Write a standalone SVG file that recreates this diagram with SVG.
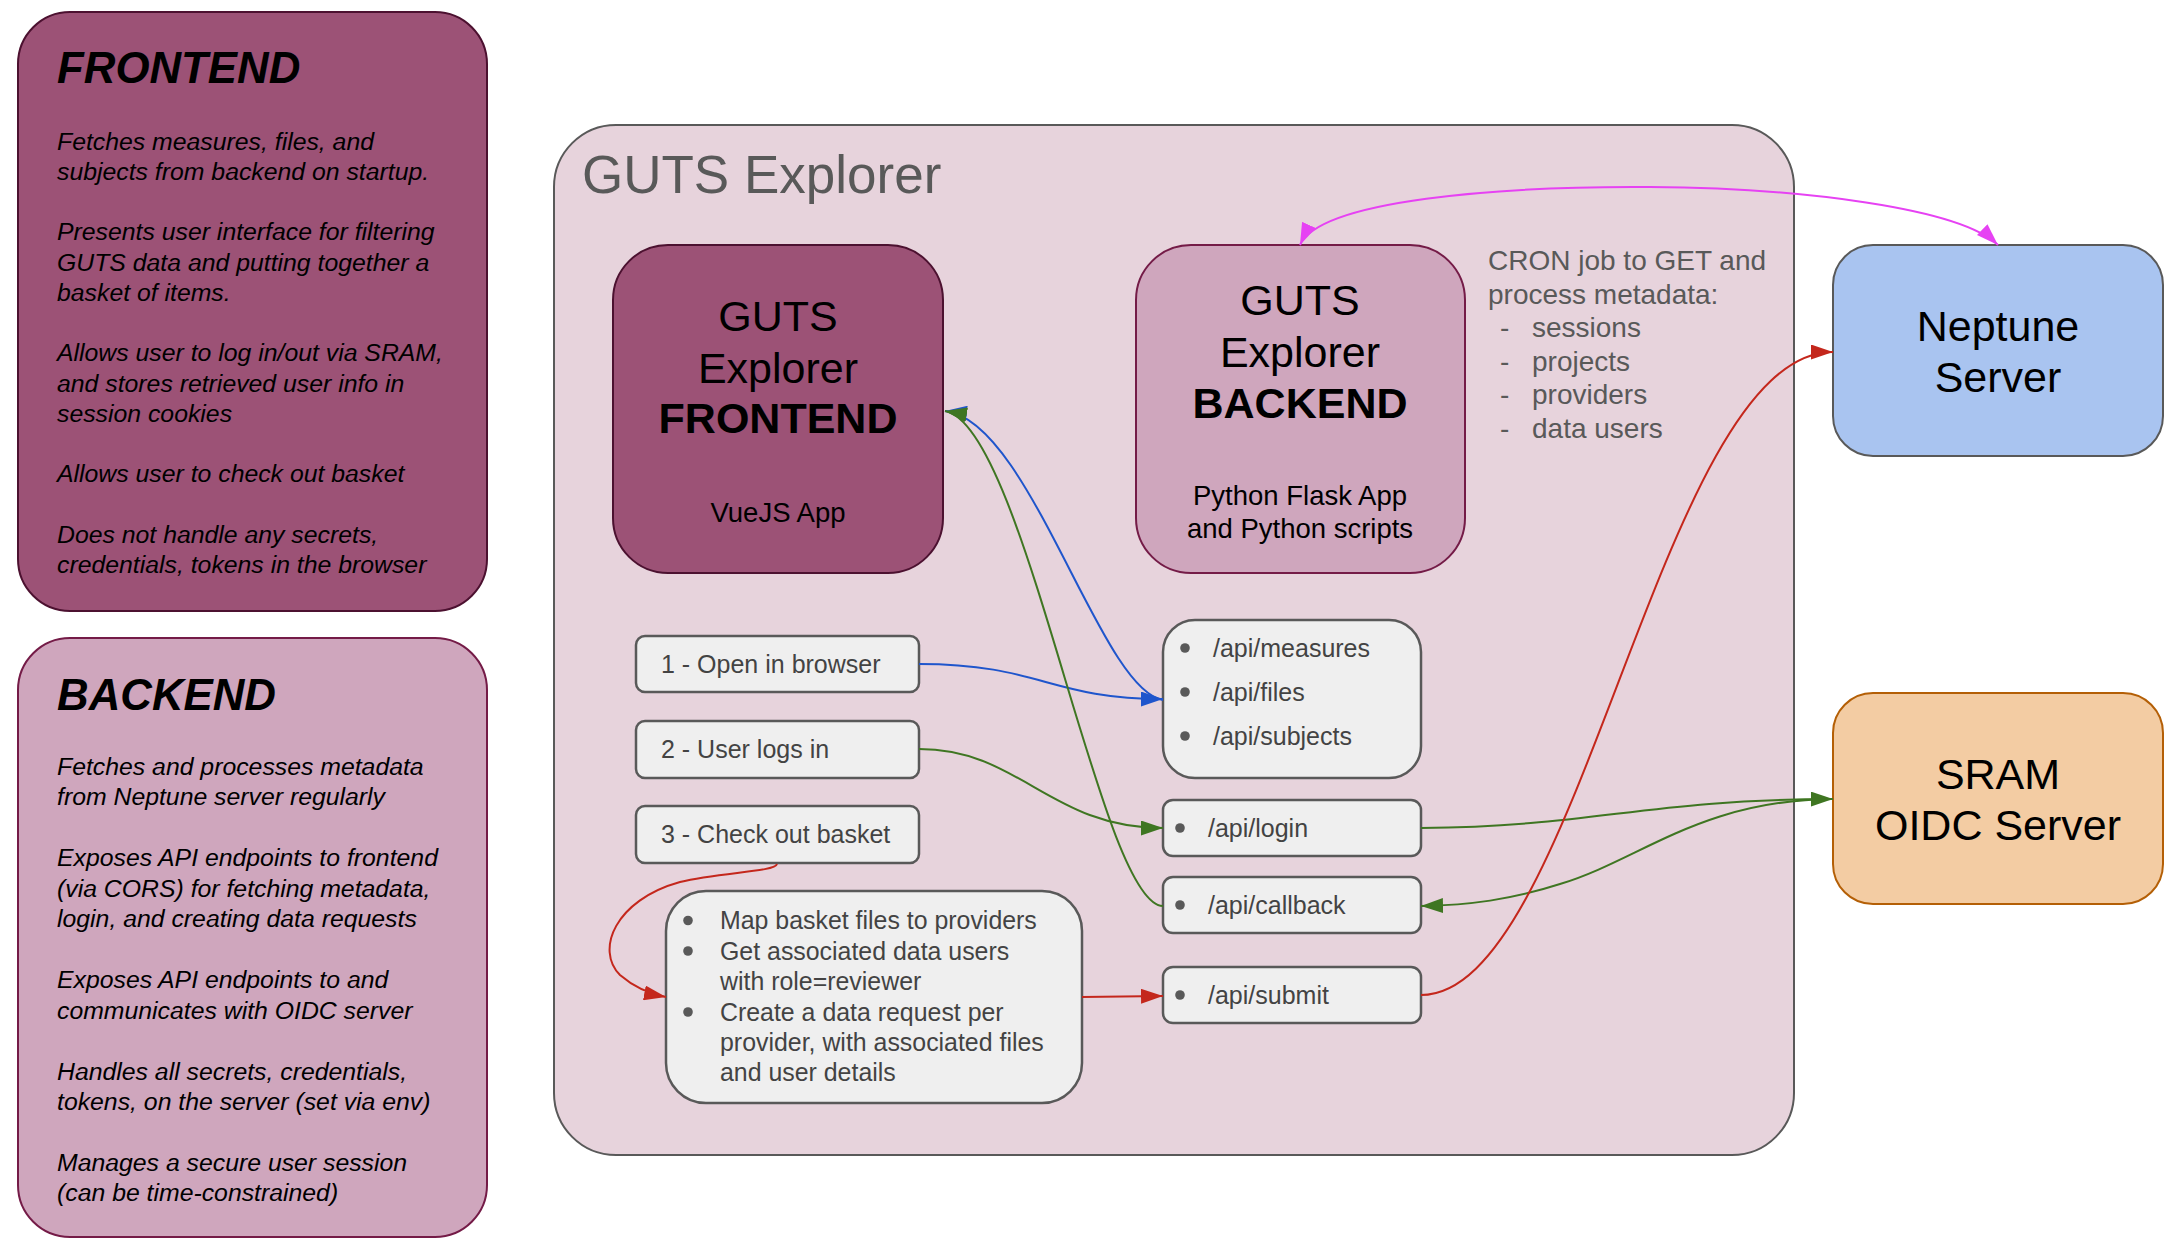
<svg xmlns="http://www.w3.org/2000/svg" width="2182" height="1254" viewBox="0 0 2182 1254">
<defs>
<style>
text{font-family:"Liberation Sans",Arial,sans-serif}
.desc{font-size:24.8px;font-style:italic;fill:#000}
.desct{font-size:43.8px;font-style:italic;font-weight:bold;fill:#000}
.big{font-size:43px;fill:#000;text-anchor:middle}
.bigb{font-size:43px;font-weight:bold;fill:#000;text-anchor:middle}
.sub{font-size:27.5px;fill:#000;text-anchor:middle}
.step{font-size:25px;fill:#434343}
.api{font-size:25px;fill:#434343}
.proc{font-size:24.9px;fill:#434343}
.cron{font-size:28px;fill:#595959}
.small{fill:#efefef;stroke:#595959;stroke-width:2.5}
.dot{fill:#595959}
.c{fill:none;stroke-width:2}
</style>
<marker id="mb" viewBox="0 0 22 15" refX="22" refY="7.5" markerWidth="22" markerHeight="15" markerUnits="userSpaceOnUse" orient="auto"><path d="M0,0L22,7.5L0,15z" fill="#1f55cc"/></marker>
<marker id="mg" viewBox="0 0 22 15" refX="22" refY="7.5" markerWidth="22" markerHeight="15" markerUnits="userSpaceOnUse" orient="auto"><path d="M0,0L22,7.5L0,15z" fill="#3f7622"/></marker>
<marker id="mr" viewBox="0 0 22 15" refX="22" refY="7.5" markerWidth="22" markerHeight="15" markerUnits="userSpaceOnUse" orient="auto"><path d="M0,0L22,7.5L0,15z" fill="#c4271c"/></marker>
<marker id="mp" viewBox="0 0 22 15" refX="22" refY="7.5" markerWidth="22" markerHeight="15" markerUnits="userSpaceOnUse" orient="auto-start-reverse"><path d="M0,0L22,7.5L0,15z" fill="#e642f3"/></marker>
</defs>
<rect width="2182" height="1254" fill="#fff"/>

<g id="frontend-desc">
<rect x="18" y="12" width="469" height="599" rx="52" fill="#9c5276" stroke="#4c1130" stroke-width="2"/>
<text class="desct" x="57" y="83">FRONTEND</text>
<text class="desc" x="57" y="149.5">Fetches measures, files, and</text>
<text class="desc" x="57" y="179.75">subjects from backend on startup.</text>
<text class="desc" x="57" y="240.25">Presents user interface for filtering</text>
<text class="desc" x="57" y="270.5">GUTS data and putting together a</text>
<text class="desc" x="57" y="300.75">basket of items.</text>
<text class="desc" x="57" y="361.25">Allows user to log in/out via SRAM,</text>
<text class="desc" x="57" y="391.5">and stores retrieved user info in</text>
<text class="desc" x="57" y="421.75">session cookies</text>
<text class="desc" x="57" y="482.25">Allows user to check out basket</text>
<text class="desc" x="57" y="542.75">Does not handle any secrets,</text>
<text class="desc" x="57" y="573">credentials, tokens in the browser</text>
</g>

<g id="backend-desc">
<rect x="18" y="638" width="469" height="599" rx="52" fill="#cfa6bd" stroke="#741b47" stroke-width="2"/>
<text class="desct" x="57" y="710">BACKEND</text>
<text class="desc" x="57" y="775">Fetches and processes metadata</text>
<text class="desc" x="57" y="805.45">from Neptune server regularly</text>
<text class="desc" x="57" y="866.35">Exposes API endpoints to frontend</text>
<text class="desc" x="57" y="896.8">(via CORS) for fetching metadata,</text>
<text class="desc" x="57" y="927.25">login, and creating data requests</text>
<text class="desc" x="57" y="988.15">Exposes API endpoints to and</text>
<text class="desc" x="57" y="1018.6">communicates with OIDC server</text>
<text class="desc" x="57" y="1079.5">Handles all secrets, credentials,</text>
<text class="desc" x="57" y="1109.95">tokens, on the server (set via env)</text>
<text class="desc" x="57" y="1170.85">Manages a secure user session</text>
<text class="desc" x="57" y="1201.3">(can be time-constrained)</text>
</g>

<g id="guts-explorer">
<rect x="554" y="125" width="1240" height="1030" rx="62" fill="#e7d3dc" stroke="#595959" stroke-width="2"/>
<text x="582" y="193" style="font-size:53px;fill:#595959">GUTS Explorer</text>
</g>

<g id="frontend-node">
<rect x="613" y="245" width="330" height="328" rx="55" fill="#9c5276" stroke="#4c1130" stroke-width="2"/>
<text class="big" x="778" y="331">GUTS</text>
<text class="big" x="778" y="383">Explorer</text>
<text class="bigb" x="778" y="433">FRONTEND</text>
<text class="sub" x="778" y="522">VueJS App</text>
</g>

<g id="backend-node">
<rect x="1136" y="245" width="329" height="328" rx="55" fill="#cfa6bd" stroke="#741b47" stroke-width="2"/>
<text class="big" x="1300" y="315">GUTS</text>
<text class="big" x="1300" y="367">Explorer</text>
<text class="bigb" x="1300" y="418">BACKEND</text>
<text class="sub" x="1300" y="505">Python Flask App</text>
<text class="sub" x="1300" y="538">and Python scripts</text>
</g>

<g id="cron-note">
<text class="cron" x="1488" y="270">CRON job to GET and</text>
<text class="cron" x="1488" y="303.5">process metadata:</text>
<text class="cron" x="1500" y="337">-</text><text class="cron" x="1532" y="337">sessions</text>
<text class="cron" x="1500" y="370.5">-</text><text class="cron" x="1532" y="370.5">projects</text>
<text class="cron" x="1500" y="404">-</text><text class="cron" x="1532" y="404">providers</text>
<text class="cron" x="1500" y="437.5">-</text><text class="cron" x="1532" y="437.5">data users</text>
</g>

<g id="neptune">
<rect x="1833" y="245" width="330" height="211" rx="40" fill="#a9c4f0" stroke="#595959" stroke-width="2"/>
<text class="big" x="1998" y="341">Neptune</text>
<text class="big" x="1998" y="392">Server</text>
</g>

<g id="sram">
<rect x="1833" y="693" width="330" height="211" rx="40" fill="#f3cca3" stroke="#b45f06" stroke-width="2"/>
<text class="big" x="1998" y="789">SRAM</text>
<text class="big" x="1998" y="840">OIDC Server</text>
</g>

<g id="step1">
<rect class="small" x="636" y="636" width="283" height="56" rx="9"/>
<text class="step" x="661" y="673">1 - Open in browser</text>
</g>
<g id="step2">
<rect class="small" x="636" y="721" width="283" height="57" rx="9"/>
<text class="step" x="661" y="758">2 - User logs in</text>
</g>
<g id="step3">
<rect class="small" x="636" y="806" width="283" height="57" rx="9"/>
<text class="step" x="661" y="843">3 - Check out basket</text>
</g>

<g id="api-metadata">
<rect class="small" x="1163" y="620" width="258" height="158" rx="32"/>
<circle class="dot" cx="1185" cy="648" r="4.8"/><text class="api" x="1213" y="657">/api/measures</text>
<circle class="dot" cx="1185" cy="692" r="4.8"/><text class="api" x="1213" y="701">/api/files</text>
<circle class="dot" cx="1185" cy="736" r="4.8"/><text class="api" x="1213" y="745">/api/subjects</text>
</g>
<g id="api-login">
<rect class="small" x="1163" y="800" width="258" height="56" rx="10"/>
<circle class="dot" cx="1180" cy="828" r="4.8"/><text class="api" x="1208" y="837">/api/login</text>
</g>
<g id="api-callback">
<rect class="small" x="1163" y="877" width="258" height="56" rx="10"/>
<circle class="dot" cx="1180" cy="905" r="4.8"/><text class="api" x="1208" y="914">/api/callback</text>
</g>
<g id="api-submit">
<rect class="small" x="1163" y="967" width="258" height="56" rx="10"/>
<circle class="dot" cx="1180" cy="995" r="4.8"/><text class="api" x="1208" y="1004">/api/submit</text>
</g>

<g id="process">
<rect class="small" x="666" y="891" width="416" height="212" rx="40"/>
<circle class="dot" cx="688" cy="920.5" r="4.8"/><text class="proc" x="720" y="929">Map basket files to providers</text>
<circle class="dot" cx="688" cy="951" r="4.8"/><text class="proc" x="720" y="959.6">Get associated data users</text>
<text class="proc" x="720" y="990">with role=reviewer</text>
<circle class="dot" cx="688" cy="1012" r="4.8"/><text class="proc" x="720" y="1020.6">Create a data request per</text>
<text class="proc" x="720" y="1050.6">provider, with associated files</text>
<text class="proc" x="720" y="1081">and user details</text>
</g>

<g id="connectors">
<path class="c" stroke="#1f55cc" d="M919,664 C1040,664 1050,699 1163,699" marker-end="url(#mb)"/>
<path class="c" stroke="#1f55cc" d="M1163,700 C1100,690 1030,420 945,411" marker-end="url(#mb)"/>
<path class="c" stroke="#3f7622" d="M1163,906 C1100,905 1025,425 945,411" marker-end="url(#mg)"/>
<path class="c" stroke="#3f7622" d="M919,749 C1020,749 1050,828 1163,828" marker-end="url(#mg)"/>
<path class="c" stroke="#3f7622" d="M1421,828 C1600,826 1640,800 1833,799" marker-end="url(#mg)"/>
<path class="c" stroke="#3f7622" d="M1833,799 C1700,800 1640,860 1560,884 C1510,900 1470,905 1421,906" marker-end="url(#mg)"/>
<path class="c" stroke="#c4271c" d="M777,864 C775,872 720,872 680,882 C615,900 595,950 620,975 C635,988 650,994 666,997" marker-end="url(#mr)"/>
<path class="c" stroke="#c4271c" d="M1082,997 L1163,996" marker-end="url(#mr)"/>
<path class="c" stroke="#c4271c" d="M1421,995 C1580,995 1660,352 1833,352" marker-end="url(#mr)"/>
<path class="c" stroke="#e642f3" d="M1300,245 C1320,200 1500,186 1650,187 C1800,188 1960,208 1998,245" marker-start="url(#mp)" marker-end="url(#mp)"/>
</g>
</svg>
